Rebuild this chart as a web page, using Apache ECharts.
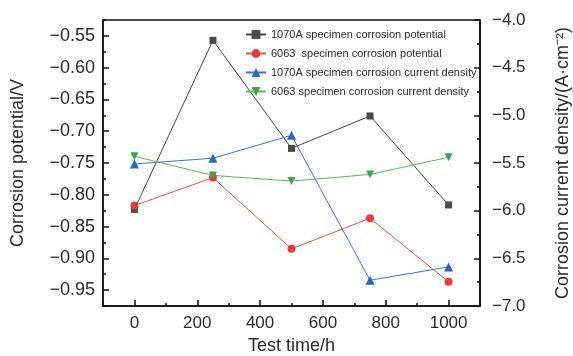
<!DOCTYPE html>
<html>
<head>
<meta charset="utf-8">
<style>
  html, body { margin: 0; padding: 0; background: #fff; }
  #chart { width: 573px; height: 356px; }
</style>
<script src="https://cdn.jsdelivr.net/npm/echarts@6/dist/echarts.min.js"></script>
</head>
<body>
<div id="chart"></div>
<script>
// 测试时间
var testTime = [0, 250, 500, 750, 1000]
// 腐蚀电位 (V)
var potential1070A = [-0.823, -0.557, -0.727, -0.676, -0.816]
var potential6063 = [-0.817, -0.773, -0.885, -0.837, -0.937]
// 腐蚀电流密度 (log A·cm-2)
var current1070A = [-5.51, -5.45, -5.21, -6.73, -6.59]
var current6063 = [-5.43, -5.63, -5.69, -5.62, -5.44]
// 刻度
var xTicks = [0, 200, 400, 600, 800, 1000]
var leftTicks = [-0.95, -0.9, -0.85, -0.8, -0.75, -0.7, -0.65, -0.6, -0.55]

var seriesNames = [
  '1070A specimen corrosion potential',
  '6063  specimen corrosion potential',
  '1070A specimen corrosion current density',
  '6063 specimen corrosion current density',
]

function pairs(ys) {
  return testTime.map(function (t, i) { return [t, ys[i]] })
}
function minus(v) {
  return String(v).replace('-', '\u2212')
}

var font = "'Liberation Sans', Arial, sans-serif"
var textColor = '#2a2a2a'
var axisColor = '#111'

var chart = echarts.init(document.getElementById('chart'))
var option = {
  animation: false,
  textStyle: { fontFamily: font },
  grid: {
    left: 103, right: 93, top: 20, bottom: 50,
    outerBoundsMode: 'none',
    show: true, borderColor: axisColor, borderWidth: 1.5,
  },
  legend: {
    orient: 'vertical',
    left: 240,
    top: 24,
    itemWidth: 20,
    itemHeight: 11,
    itemGap: 8,
    textStyle: { fontSize: 11, color: textColor, fontFamily: font },
    data: seriesNames,
  },
  xAxis: [
    {
      type: 'value',
      min: -100, max: 1100,
      name: 'Test time/h',
      nameLocation: 'middle',
      nameGap: 28,
      nameTextStyle: { fontSize: 18, color: textColor },
      axisLine: { onZero: false, lineStyle: { color: axisColor, width: 1.5 } },
      axisTick: { inside: true, length: 6, customValues: xTicks, lineStyle: { color: axisColor, width: 1.5 } },
      axisLabel: {
        customValues: xTicks, fontSize: 17, color: textColor, margin: 9,
        formatter: function (v) { return String(v) },
      },
      splitLine: { show: false },
    },
    // 次刻度
    {
      type: 'value',
      min: -100, max: 1100, interval: 100,
      position: 'bottom',
      axisLine: { show: false, onZero: false },
      axisTick: { inside: true, length: 3, lineStyle: { color: axisColor, width: 1.5 } },
      axisLabel: { show: false },
      splitLine: { show: false },
    },
  ],
  yAxis: [
    {
      type: 'value',
      min: -0.975, max: -0.525,
      position: 'left',
      name: 'Corrosion potential/V',
      nameLocation: 'middle',
      nameGap: 76,
      nameTextStyle: { fontSize: 18, color: textColor },
      axisLine: { show: true, onZero: false, lineStyle: { color: axisColor, width: 1.5 } },
      axisTick: { inside: true, length: 6, customValues: leftTicks, lineStyle: { color: axisColor, width: 1.5 } },
      axisLabel: {
        customValues: leftTicks, fontSize: 18, color: textColor, margin: 8,
        formatter: function (v) { return minus(v.toFixed(2)) },
      },
      splitLine: { show: false },
    },
    {
      type: 'value',
      min: -7, max: -4, interval: 0.5,
      position: 'right',
      name: 'Corrosion current density/(A·cm\u207B\u00B2)',
      nameLocation: 'middle',
      nameGap: 74,
      nameRotate: 90,
      nameTextStyle: { fontSize: 18, color: textColor },
      axisLine: { show: true, onZero: false, lineStyle: { color: axisColor, width: 1.5 } },
      axisTick: { inside: true, length: 6, lineStyle: { color: axisColor, width: 1.5 } },
      minorTick: { show: true, splitNumber: 2, length: 3, lineStyle: { color: axisColor, width: 1.5 } },
      axisLabel: {
        fontSize: 17, color: textColor, margin: 12,
        formatter: function (v) { return minus(v.toFixed(1)) },
      },
      splitLine: { show: false },
    },
    // 左轴次刻度
    {
      type: 'value',
      min: -0.975, max: -0.525, interval: 0.025,
      position: 'left',
      axisLine: { show: false, onZero: false },
      axisTick: { inside: true, length: 3, lineStyle: { color: axisColor, width: 1.5 } },
      axisLabel: { show: false },
      splitLine: { show: false },
    },
  ],
  series: [
    {
      name: seriesNames[0], type: 'line', yAxisIndex: 0,
      data: pairs(potential1070A),
      symbol: 'rect', symbolSize: 7,
      lineStyle: { color: '#444', width: 1 },
      itemStyle: { color: '#4a4a4a' },
    },
    {
      name: seriesNames[1], type: 'line', yAxisIndex: 0,
      data: pairs(potential6063),
      symbol: 'circle', symbolSize: 8,
      lineStyle: { color: '#f0504a', width: 1 },
      itemStyle: { color: '#e8393c' },
    },
    {
      name: seriesNames[2], type: 'line', yAxisIndex: 1,
      data: pairs(current1070A),
      symbol: 'triangle', symbolSize: 9,
      lineStyle: { color: '#3d72d6', width: 1 },
      itemStyle: { color: '#2a65c4' },
    },
    {
      name: seriesNames[3], type: 'line', yAxisIndex: 1,
      data: pairs(current6063),
      symbol: 'triangle', symbolRotate: 180, symbolSize: 8,
      lineStyle: { color: '#5cb85c', width: 1 },
      itemStyle: { color: '#3fa34d' },
    },
  ],
}
chart.setOption(option)
</script>
</body>
</html>
